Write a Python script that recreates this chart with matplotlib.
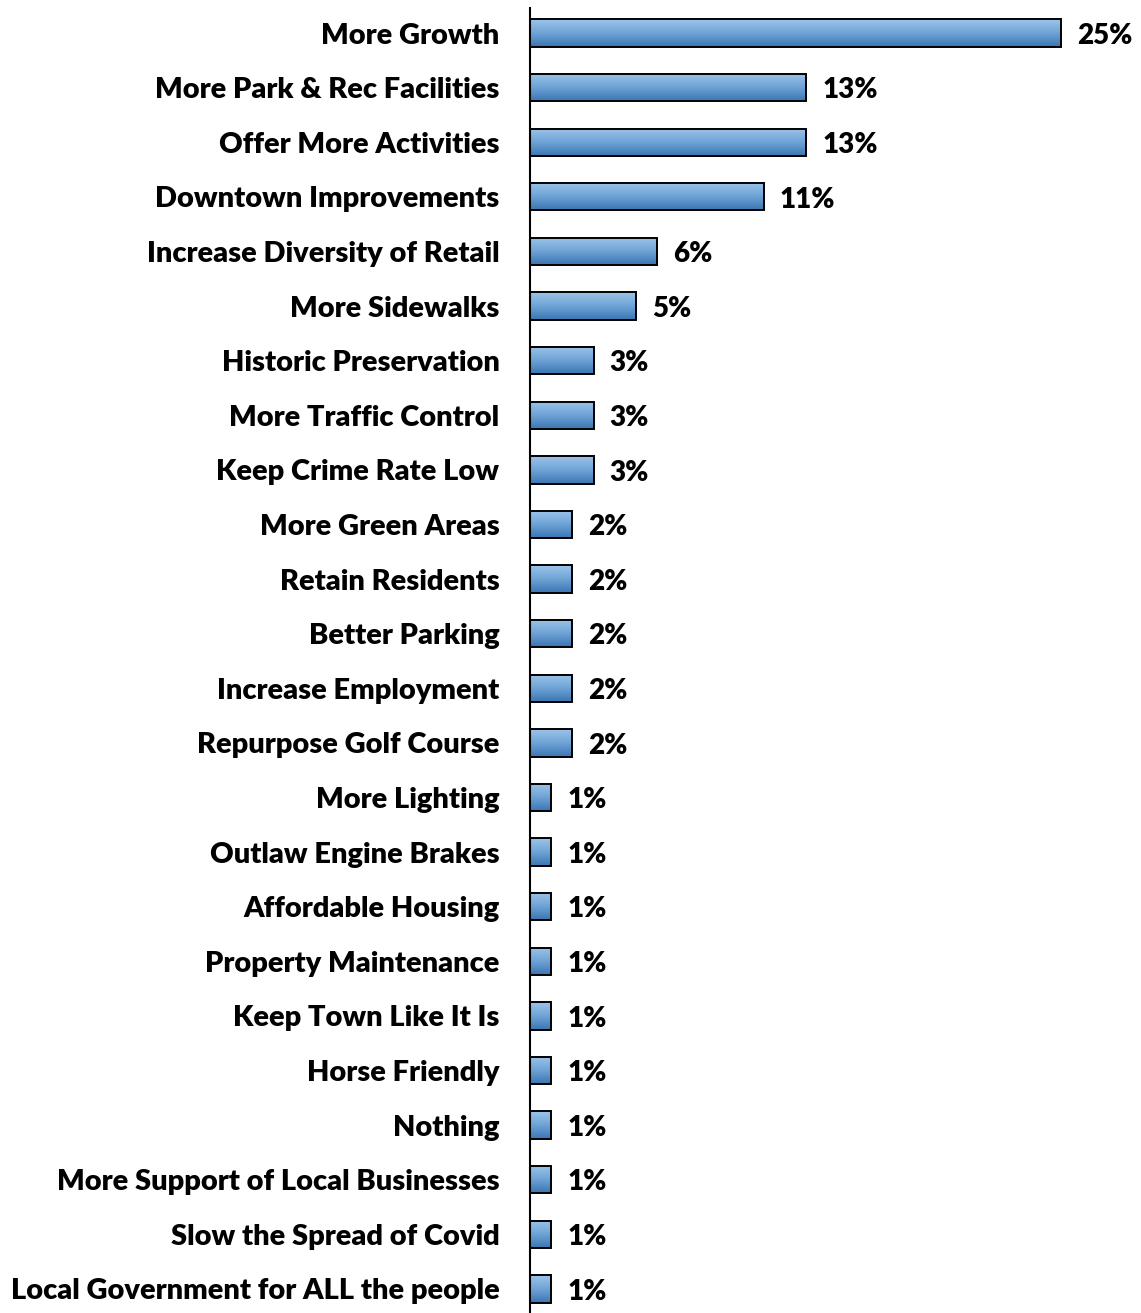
import matplotlib
matplotlib.use("Agg")
import matplotlib.pyplot as plt
import numpy as np
from matplotlib.colors import LinearSegmentedColormap

categories = [
    "More Growth",
    "More Park & Rec Facilities",
    "Offer More Activities",
    "Downtown Improvements",
    "Increase Diversity of Retail",
    "More Sidewalks",
    "Historic Preservation",
    "More Traffic Control",
    "Keep Crime Rate Low",
    "More Green Areas",
    "Retain Residents",
    "Better Parking",
    "Increase Employment",
    "Repurpose Golf Course",
    "More Lighting",
    "Outlaw Engine Brakes",
    "Affordable Housing",
    "Property Maintenance",
    "Keep Town Like It Is",
    "Horse Friendly",
    "Nothing",
    "More Support of Local Businesses",
    "Slow the Spread of Covid",
    "Local Government for ALL the people",
]
percents = [25, 13, 13, 11, 6, 5, 3, 3, 3, 2, 2, 2, 2, 2, 1, 1, 1, 1, 1, 1, 1, 1, 1, 1]

plt.rcParams["font.family"] = ["Lato", "DejaVu Sans"]
LABEL_WEIGHT = "heavy"

W, H = 1141, 1313
fig = plt.figure(figsize=(W / 100, H / 100), dpi=100)
x0_px, top_px = 530, 8
xmax = 28
px_per_unit = 21.24
ax = fig.add_axes([x0_px / W, 0, xmax * px_per_unit / W, 1 - top_px / H])

y = np.arange(len(categories))
bars = ax.barh(y, percents, height=0.5, color="none", edgecolor="black", linewidth=1.4, zorder=3)

# vertical gradient inside each bar, light on top to darker at the bottom
grad_cmap = LinearSegmentedColormap.from_list("bar_grad", ["#9cc4ea", "#6fa3d6", "#3a76b3"])
grad = np.linspace(0, 1, 64).reshape(-1, 1)
for bar in bars:
    bx, by = bar.get_x(), bar.get_y()
    bw, bh = bar.get_width(), bar.get_height()
    im = ax.imshow(grad, cmap=grad_cmap, aspect="auto", extent=(bx, bx + bw, by, by + bh),
                   origin="lower", zorder=2)
    im.set_clip_path(bar)

for yi, val in zip(y, percents):
    ax.text(val + 0.75, yi + 0.05, f"{val}%", va="center", ha="left", fontsize=20, fontweight=LABEL_WEIGHT)

ax.set_xlim(0, xmax)
ax.set_ylim(23.44, -0.458)
ax.set_yticks(y)
ax.set_yticklabels(categories, fontsize=20.9, fontweight=LABEL_WEIGHT)
ax.tick_params(axis="y", length=0, pad=22)
ax.set_xticks([])
for side in ["top", "right", "bottom"]:
    ax.spines[side].set_visible(False)
ax.spines["left"].set_linewidth(1.5)

fig.savefig("out.png", dpi=100)
